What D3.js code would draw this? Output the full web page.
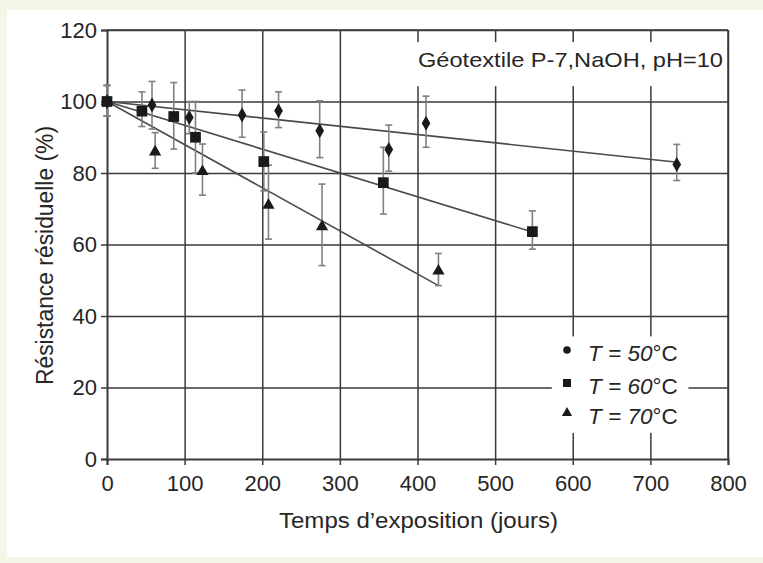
<!DOCTYPE html>
<html><head><meta charset="utf-8">
<script src="https://cdn.jsdelivr.net/npm/d3@7"></script>
<style>
html,body{margin:0;padding:0;background:#f3f7e7;}
svg{display:block;font-family:"Liberation Sans",Arial,sans-serif;}
</style></head>
<body>
<svg id="c" width="763" height="563"></svg>
<script>
// ---- data ----
const xTicks = [0,100,200,300,400,500,600,700,800];
const yTicks = [0,20,40,60,80,100,120];
const seriesNames = ["T = 50°C","T = 60°C","T = 70°C"];
// [days, value, errLow, errHigh]
const t50 = [[0,100,96,104.5],[58,99,92.3,105.6],[106,95.5,91,100],[174,96.2,90,103.2],[221,97.4,92.7,102.7],[274,91.8,84.3,100.2],[363,86.6,80.5,93.4],[411,93.9,87.2,101.5],[734,82.4,77.9,88]];
const t60 = [[0,100,96,104.5],[45,97.3,93,102.7],[86,95.8,86.7,105.3],[114,90,80,100],[202,83.2,75,91.5],[356,77.3,68.5,87.2],[548,63.6,58.7,69.4]];
const t70 = [[0,100,96,104.5],[62,85.9,81.3,91.3],[123,80.4,73.8,88.1],[208,71,61.5,82.2],[277,65,54.1,76.9],[427,52.6,48.5,57.5]];
// fitted lines
const fit50 = [[0,100],[735,83]];
const fit60 = [[0,100],[548,63.5]];
const fit70 = [[0,100],[427,48.5]];
const annotation = "Géotextile P-7,NaOH, pH=10";
const xTitle = "Temps d’exposition (jours)";
const yTitle = "Résistance résiduelle (%)";

const svg = d3.select("#c");
svg.append("rect").attr("x",7).attr("y",10).attr("width",756).attr("height",547).attr("fill","#ffffff");

const x = d3.scaleLinear().domain([0,800]).range([107,728]);
const y = d3.scaleLinear().domain([0,120]).range([459,30]);
const gridCol = "#3a3a3a";
const txtCol = "#262626";

const grid = svg.append("g");
grid.append("g").attr("transform",`translate(0,${y(0)})`)
  .call(d3.axisBottom(x).tickValues(xTicks.slice(1)).tickSize(-(y(0)-y(120))).tickFormat(""))
  .call(g=>g.select(".domain").remove())
  .call(g=>g.selectAll("line").attr("stroke",gridCol).attr("stroke-width",1.5));
grid.append("g").attr("transform",`translate(${x(0)},0)`)
  .call(d3.axisLeft(y).tickValues(yTicks.slice(1)).tickSize(-(x(800)-x(0))).tickFormat(""))
  .call(g=>g.select(".domain").remove())
  .call(g=>g.selectAll("line").attr("stroke",gridCol).attr("stroke-width",1.5));

// masks for annotation and legend
svg.append("rect").attr("x",x(392)).attr("y",y(116.6)).attr("width",x(798)-x(392)).attr("height",y(104.3)-y(116.6)).attr("fill","#fff");
svg.append("rect").attr("x",x(573)).attr("y",y(34.3)).attr("width",x(749)-x(573)).attr("height",y(7.3)-y(34.3)).attr("fill","#fff");

const xAxis = svg.append("g").attr("transform",`translate(0,${y(0)})`)
  .call(d3.axisBottom(x).tickValues(xTicks).tickSize(6).tickPadding(10));
const yAxis = svg.append("g").attr("transform",`translate(${x(0)},0)`)
  .call(d3.axisLeft(y).tickValues(yTicks).tickSize(6).tickPadding(4));
[xAxis,yAxis].forEach(a=>{
  a.select(".domain").attr("stroke",gridCol).attr("stroke-width",2);
  a.selectAll("line").attr("stroke",gridCol).attr("stroke-width",1.5);
  a.selectAll("text").attr("font-size",22).attr("fill",txtCol).attr("font-family","'Liberation Sans',Arial,sans-serif");
});
svg.append("line").attr("x1",x(0)).attr("x2",x(800)).attr("y1",y(120)).attr("y2",y(120)).attr("stroke",gridCol).attr("stroke-width",1.5);
svg.append("line").attr("x1",x(800)).attr("x2",x(800)).attr("y1",y(120)).attr("y2",y(0)).attr("stroke",gridCol).attr("stroke-width",1.5);

// annotation
svg.append("text").attr("x",418).attr("y",67)
  .attr("font-size",21).attr("fill",txtCol)
  .attr("textLength",305).attr("lengthAdjust","spacingAndGlyphs").text(annotation);

// titles
svg.append("text").attr("x",279).attr("y",528)
  .attr("font-size",22).attr("fill",txtCol)
  .attr("textLength",279).attr("lengthAdjust","spacingAndGlyphs").text(xTitle);
svg.append("text").attr("transform",`translate(53,385) rotate(-90)`)
  .attr("font-size",23).attr("fill",txtCol)
  .attr("textLength",259).attr("lengthAdjust","spacingAndGlyphs").text(yTitle);

// fitted lines
const line = d3.line().x(d=>x(d[0])).y(d=>y(d[1]));
[fit50,fit60,fit70].forEach(f=>{
  svg.append("path").attr("d",line(f)).attr("fill","none").attr("stroke","#4a4a4a").attr("stroke-width",1.6);
});

// error bars
const errCol = "#808080";
function errBars(data){
  const g = svg.append("g");
  data.forEach(d=>{
    g.append("line").attr("x1",x(d[0])).attr("x2",x(d[0])).attr("y1",y(d[2])).attr("y2",y(d[3])).attr("stroke",errCol).attr("stroke-width",1.6);
    [d[2],d[3]].forEach(v=>g.append("line").attr("x1",x(d[0])-3.5).attr("x2",x(d[0])+3.5).attr("y1",y(v)).attr("y2",y(v)).attr("stroke",errCol).attr("stroke-width",1.6));
  });
}
errBars(t50); errBars(t60); errBars(t70);

// markers
const symbols = [d3.symbol().type(d3.symbolDiamond).size(65), d3.symbol().type(d3.symbolSquare).size(115), d3.symbol().type(d3.symbolTriangle).size(65)];
[t50,t60,t70].forEach((data,i)=>{
  svg.append("g").selectAll("path").data(data).join("path")
    .attr("transform",d=>`translate(${x(d[0])},${y(d[1])})`)
    .attr("d",symbols[i]()).attr("fill","#1a1a1a");
});

// legend
const legSymbols = [d3.symbol().type(d3.symbolCircle).size(45), d3.symbol().type(d3.symbolSquare).size(64), d3.symbol().type(d3.symbolTriangle).size(45)];
const legY = [350,383,413];
seriesNames.forEach((name,i)=>{
  svg.append("path").attr("transform",`translate(567,${legY[i]})`).attr("d",legSymbols[i]()).attr("fill","#1a1a1a");
  const parts = name.split("°");
  const t = svg.append("text").attr("x",588).attr("y",legY[i]+11).attr("font-size",22.5).attr("fill",txtCol);
  t.append("tspan").attr("font-style","italic").text(parts[0]);
  t.append("tspan").text("°"+parts[1]);
});
</script>
</body></html>
